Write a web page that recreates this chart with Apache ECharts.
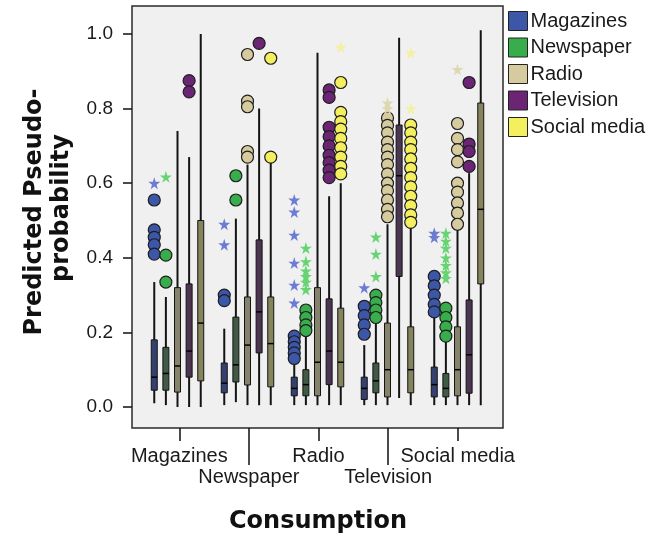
<!DOCTYPE html>
<html>
<head>
<meta charset="utf-8">
<script src="https://cdn.jsdelivr.net/npm/echarts@6/dist/echarts.min.js"></script>
<style>html,body{margin:0;padding:0;background:#fff}#c{width:662px;height:539px}</style>
</head>
<body>
<div id="c"></div>
<script>
// ---- data ----
const categories = ['Magazines', 'Newspaper', 'Radio', 'Television', 'Social media'];
const seriesNames = ['Magazines', 'Newspaper', 'Radio', 'Television', 'Social media'];
const yTicks = [0.0, 0.2, 0.4, 0.6, 0.8, 1.0];

// box stats per category: [low whisker, Q1, median, Q3, high whisker]
const boxMagazines = [[0.01,0.045,0.08,0.18,0.335],[0.005,0.038,0.064,0.118,0.21],[0.005,0.03,0.05,0.08,0.12],[0.005,0.02,0.05,0.08,0.166],[0.005,0.027,0.06,0.107,0.25]];
const boxNewspaper = [[0.005,0.045,0.09,0.16,0.295],[0.013,0.067,0.113,0.241,0.505],[0.005,0.03,0.06,0.1,0.19],[0.005,0.038,0.07,0.118,0.225],[0.005,0.027,0.05,0.09,0.18]];
const boxRadio = [[0.0,0.04,0.11,0.32,0.74],[0.005,0.059,0.166,0.295,0.65],[0.005,0.03,0.12,0.32,0.95],[0.005,0.027,0.10,0.225,0.49],[0.005,0.03,0.10,0.215,0.48]];
const boxTelevision = [[0.0,0.08,0.15,0.33,0.67],[0.005,0.145,0.255,0.448,0.80],[0.005,0.06,0.15,0.29,0.565],[0.024,0.35,0.62,0.756,0.99],[0.005,0.037,0.14,0.287,0.627]];
const boxSocial = [[0.0,0.07,0.225,0.50,1.0],[0.005,0.054,0.17,0.295,0.654],[0.005,0.054,0.12,0.265,0.60],[0.005,0.038,0.10,0.215,0.49],[0.005,0.33,0.53,0.815,1.01]];

// outliers (circles) per category
const outMagazines = [[0.555,0.475,0.455,0.435,0.41],[0.30,0.285],[0.19,0.175,0.16,0.145,0.13],[0.27,0.245,0.22,0.195],[0.35,0.325,0.30,0.275,0.255]];
const outNewspaper = [[0.407,0.335],[0.62,0.555],[0.26,0.24,0.22,0.205],[0.30,0.28,0.26,0.24],[0.265,0.24,0.215,0.19]];
const outRadio = [[],[0.945,0.82,0.805,0.685,0.67],[],[0.775,0.755,0.735,0.71,0.69,0.67,0.65,0.625,0.60,0.58,0.555,0.53,0.51],[0.76,0.72,0.69,0.657,0.60,0.576,0.547,0.52,0.49]];
const outTelevision = [[0.875,0.845],[0.975],[0.85,0.83,0.75,0.725,0.70,0.675,0.655,0.635,0.615],[],[0.87,0.705,0.685,0.645]];
const outSocial = [[],[0.935,0.67],[0.87,0.79,0.765,0.745,0.72,0.695,0.67,0.645,0.625],[0.756,0.735,0.71,0.69,0.665,0.64,0.615,0.59,0.565,0.54,0.515,0.495],[]];

// extremes (stars) per category
const extMagazines = [[0.60],[0.49,0.435],[0.555,0.523,0.461,0.386,0.327,0.279],[0.32],[0.466,0.455]];
const extNewspaper = [[0.617],[],[0.426,0.39,0.365,0.35,0.335,0.315],[0.456,0.41,0.35],[0.466,0.445,0.426,0.40,0.38,0.36,0.345]];
const extRadio = [[],[],[],[0.815,0.80],[0.905]];
const extTelevision = [[],[],[],[],[]];
const extSocial = [[],[],[0.965],[0.95,0.80],[]];

// ---- styling ----
const boxes = [boxMagazines, boxNewspaper, boxRadio, boxTelevision, boxSocial];
const outs = [outMagazines, outNewspaper, outRadio, outTelevision, outSocial];
const exts = [extMagazines, extNewspaper, extRadio, extTelevision, extSocial];
const colors = ['#3c56a8', '#38ad4c', '#d5cb9e', '#6b2574', '#f4ef5e'];
const boxFill = ['#34406e', '#3f5a45', '#85836c', '#4c3550', '#85845c'];
const starColors = ['#6c7cd2', '#66d472', '#ddd8b0', '#9a5aa6', '#f3f0a2'];
const dodge = 0.166;
const starPath = 'path://M50,0 L61,35 L98,35 L68,57 L79,91 L50,70 L21,91 L32,57 L2,35 L39,35 Z';
const FONT = '"Liberation Sans", Arial, sans-serif';

const series = [];
seriesNames.forEach((name, s) => {
  const off = (s - 2) * dodge;
  series.push({
    name: name,
    type: 'custom',
    xAxisIndex: 1, yAxisIndex: 1,
    clip: false,
    itemStyle: { color: colors[s] },
    encode: { x: 0, y: [1, 2, 3, 4, 5] },
    data: boxes[s].map((b, c) => [c + off].concat(b)),
    renderItem: function (params, api) {
      const x = api.value(0);
      const lo = api.coord([x, api.value(1)]);
      const q1 = api.coord([x, api.value(2)]);
      const md = api.coord([x, api.value(3)]);
      const q3 = api.coord([x, api.value(4)]);
      const hi = api.coord([x, api.value(5)]);
      const w = 6;
      return {
        type: 'group',
        children: [
          { type: 'line', shape: { x1: lo[0], y1: lo[1], x2: hi[0], y2: hi[1] }, style: { stroke: '#141414', lineWidth: 2 } },
          { type: 'rect', shape: { x: q3[0] - w / 2, y: q3[1], width: w, height: q1[1] - q3[1] }, style: { fill: boxFill[s], stroke: '#141414', lineWidth: 1 } },
          { type: 'line', shape: { x1: md[0] - w / 2, y1: md[1], x2: md[0] + w / 2, y2: md[1] }, style: { stroke: '#000', lineWidth: 1.5 } }
        ]
      };
    },
    z: 2
  });
});
seriesNames.forEach((name, s) => {
  const off = (s - 2) * dodge;
  const pts = [];
  outs[s].forEach((arr, c) => arr.forEach(v => pts.push([c + off, v])));
  series.push({
    name: name + ' outliers', type: 'scatter', xAxisIndex: 1, yAxisIndex: 1, clip: false,
    symbol: 'circle', symbolSize: 12, data: pts,
    itemStyle: { color: colors[s], borderColor: '#1e1e1e', borderWidth: 1.2, opacity: 1 },
    z: 3, silent: true
  });
});
seriesNames.forEach((name, s) => {
  const off = (s - 2) * dodge;
  const pts = [];
  exts[s].forEach((arr, c) => arr.forEach(v => pts.push([c + off, v])));
  series.push({
    name: name + ' extremes', type: 'scatter', xAxisIndex: 1, yAxisIndex: 1, clip: false,
    symbol: starPath, symbolSize: 12, data: pts,
    itemStyle: { color: starColors[s], opacity: 1 },
    z: 4, silent: true
  });
});

const option = {
  animation: false,
  backgroundColor: '#ffffff',
  textStyle: { fontFamily: FONT },
  grid: [
    { left: 132, right: 159, top: 6, bottom: 111, show: true, backgroundColor: '#f0f0f0', borderColor: '#2a2a2a', borderWidth: 1.5, containLabel: false },
    { left: 132, right: 159, top: 34, bottom: 132, show: false },
    { left: 144.5, right: 169.5, top: 6, bottom: 111, show: false }
  ],
  xAxis: [
    { gridIndex: 0, type: 'value', show: false, min: 0, max: 1 },
    { gridIndex: 1, type: 'value', show: false, min: -0.65, max: 4.65, axisLine: { onZero: false } },
    { gridIndex: 2, type: 'category', data: categories, position: 'bottom', boundaryGap: true,
      axisLine: { show: false, onZero: false },
      axisTick: { show: true, alignWithLabel: true, length: 13, interval: (i) => i % 2 === 0, lineStyle: { color: '#111', width: 1.5 } },
      axisLabel: { interval: (i) => i % 2 === 0, margin: 18, fontSize: 20, color: '#1a1a1a', fontFamily: FONT } },
    { gridIndex: 2, type: 'category', data: categories, position: 'bottom', boundaryGap: true,
      axisLine: { show: false, onZero: false },
      axisTick: { show: true, alignWithLabel: true, length: 37, interval: (i) => i % 2 === 1, lineStyle: { color: '#111', width: 1.5 } },
      axisLabel: { interval: (i) => i % 2 === 1, margin: 39, fontSize: 20, color: '#1a1a1a', fontFamily: FONT } }
  ],
  yAxis: [
    { gridIndex: 0, type: 'value', show: false, min: 0, max: 1 },
    { gridIndex: 1, type: 'value', position: 'left', min: yTicks[0], max: yTicks[yTicks.length - 1], interval: 0.2,
      axisLine: { show: false, onZero: false }, splitLine: { show: false },
      axisTick: { show: true, length: 9, lineStyle: { color: '#111', width: 1.5 } },
      axisLabel: { margin: 19, fontSize: 19, color: '#1a1a1a', fontFamily: FONT, formatter: v => v.toFixed(1) } },
    { gridIndex: 2, type: 'value', show: false, min: 0, max: 1 }
  ],
  legend: {
    data: seriesNames, orient: 'vertical', left: 508, top: 11, padding: 0,
    itemWidth: 19, itemHeight: 19, itemGap: 6.5, icon: 'rect',
    itemStyle: { borderColor: '#222', borderWidth: 1 },
    textStyle: { fontSize: 20, color: '#1a1a1a', fontFamily: FONT, padding: [0, 0, 0, -2] },
    selectedMode: false
  },
  graphic: [
    { type: 'text', x: 35, y: 212, rotation: Math.PI / 2,
      style: { text: 'Predicted Pseudo-', font: 'bold 24px "DejaVu Sans"', fill: '#111', align: 'center', verticalAlign: 'middle' } },
    { type: 'text', x: 62, y: 208, rotation: Math.PI / 2,
      style: { text: 'probability', font: 'bold 24px "DejaVu Sans"', fill: '#111', align: 'center', verticalAlign: 'middle' } },
    { type: 'text', x: 318, y: 522,
      style: { text: 'Consumption', font: 'bold 24px "DejaVu Sans"', fill: '#111', align: 'center', verticalAlign: 'middle' } }
  ],
  series: series
};
const chart = echarts.init(document.getElementById('c'), null, { renderer: 'canvas' });
chart.setOption(option);
</script>
</body>
</html>
